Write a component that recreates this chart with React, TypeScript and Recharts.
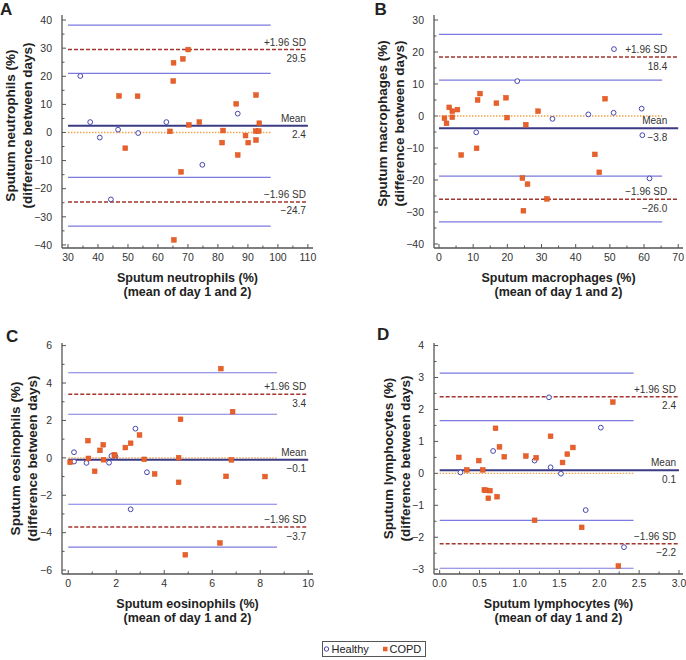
import { ScatterChart, Scatter, XAxis, YAxis, ReferenceLine } from 'recharts'

type Pt = { x: number; y: number }

// ---- A: neutrophils
const neutHealthy: Pt[] = [
    { x: 34.1, y: 20.1 }, { x: 37.4, y: 3.7 }, { x: 40.6, y: -1.8 }, { x: 44.3, y: -23.8 },
    { x: 46.7, y: 1.0 }, { x: 53.4, y: -0.2 }, { x: 62.8, y: 3.7 }, { x: 74.8, y: -11.5 },
    { x: 86.6, y: 6.7 },
]
const neutCopd: Pt[] = [
    { x: 47.0, y: 13.0 }, { x: 53.2, y: 12.9 }, { x: 49.1, y: -5.6 }, { x: 64.0, y: 0.4 },
    { x: 65.2, y: 24.8 }, { x: 68.3, y: 26.2 }, { x: 65.1, y: 18.3 }, { x: 70.1, y: 29.5 },
    { x: 70.3, y: 2.7 }, { x: 73.8, y: 3.7 }, { x: 67.7, y: -14.0 }, { x: 65.3, y: -38.2 },
    { x: 81.7, y: 0.7 }, { x: 81.4, y: -3.6 }, { x: 86.1, y: 10.2 }, { x: 86.6, y: -8.0 },
    { x: 89.2, y: -1.1 }, { x: 90.1, y: -3.6 }, { x: 92.7, y: 13.3 }, { x: 92.6, y: 0.5 },
    { x: 92.7, y: -2.7 }, { x: 93.8, y: 3.3 }, { x: 93.6, y: 0.5 },
]
const neutLimits = [2.4, 29.5, -24.7] // mean, +1.96 SD, -1.96 SD
const neutCi = [38.2, 21.0, -16.0, -33.3]
const neutXTicks = [30, 40, 50, 60, 70, 80, 90, 100, 110]
const neutYTicks = [-40, -30, -20, -10, 0, 10, 20, 30, 40]

// ---- B: macrophages
const macHealthy: Pt[] = [
    { x: 51.2, y: 20.9 }, { x: 22.9, y: 10.9 }, { x: 10.9, y: -5.1 }, { x: 33.2, y: -0.9 },
    { x: 43.7, y: 0.5 }, { x: 51.1, y: 1.0 }, { x: 59.3, y: 2.3 }, { x: 59.5, y: -6.0 },
    { x: 61.6, y: -19.5 },
]
const macCopd: Pt[] = [
    { x: 1.6, y: -0.7 }, { x: 2.2, y: -2.3 }, { x: 3.0, y: 2.7 }, { x: 3.9, y: 1.5 },
    { x: 3.9, y: -0.4 }, { x: 5.4, y: 2.0 }, { x: 6.5, y: -12.2 }, { x: 11.0, y: -10.1 },
    { x: 11.3, y: 5.0 }, { x: 12.0, y: 7.0 }, { x: 16.8, y: 4.0 }, { x: 19.6, y: 5.7 },
    { x: 19.9, y: -0.5 }, { x: 25.4, y: -2.7 }, { x: 29.0, y: 1.5 }, { x: 24.4, y: -19.4 },
    { x: 25.9, y: -21.3 }, { x: 24.7, y: -29.6 }, { x: 31.6, y: -25.9 }, { x: 45.6, y: -12.0 },
    { x: 46.9, y: -17.6 }, { x: 48.6, y: 5.4 },
]
const macLimits = [-3.8, 18.4, -26.0]
const macCi = [25.5, 11.2, -18.8, -33.1]
const macXTicks = [0, 10, 20, 30, 40, 50, 60, 70]
const macYTicks = [-40, -30, -20, -10, 0, 10, 20, 30]

// ---- C: eosinophils
const eosHealthy: Pt[] = [
    { x: 0.24, y: 0.3 }, { x: 0.24, y: -0.2 }, { x: 0.76, y: -0.27 }, { x: 1.7, y: -0.26 },
    { x: 1.8, y: 0.1 }, { x: 1.97, y: 0.06 }, { x: 2.8, y: 1.56 }, { x: 3.28, y: -0.77 },
    { x: 2.6, y: -2.75 },
]
const eosCopd: Pt[] = [
    { x: 0.08, y: -0.24 }, { x: 0.82, y: 0.92 }, { x: 0.84, y: -0.03 }, { x: 1.1, y: -0.72 },
    { x: 1.32, y: 0.4 }, { x: 1.46, y: 0.7 }, { x: 1.47, y: -0.1 }, { x: 1.92, y: 0.17 },
    { x: 1.94, y: 0.12 }, { x: 2.38, y: 0.55 }, { x: 2.6, y: 0.78 }, { x: 2.97, y: 1.22 },
    { x: 3.17, y: -0.08 }, { x: 3.6, y: -0.86 }, { x: 4.68, y: 2.06 }, { x: 4.6, y: 0.01 },
    { x: 4.6, y: -1.31 }, { x: 6.36, y: 4.77 }, { x: 6.85, y: 2.47 }, { x: 6.8, y: -0.11 },
    { x: 6.58, y: -0.99 }, { x: 8.2, y: -1.0 }, { x: 6.32, y: -4.55 }, { x: 4.88, y: -5.18 },
]
const eosLimits = [-0.1, 3.4, -3.7]
const eosCi = [4.55, 2.33, -2.48, -4.77]
const eosXTicks = [0, 2, 4, 6, 8, 10]
const eosYTicks = [-6, -4, -2, 0, 2, 4, 6]

// ---- D: lymphocytes
const lymHealthy: Pt[] = [
    { x: 0.26, y: 0.03 }, { x: 0.67, y: 0.7 }, { x: 1.19, y: 0.4 }, { x: 1.37, y: 2.38 },
    { x: 1.39, y: 0.19 }, { x: 1.52, y: -0.01 }, { x: 1.83, y: -1.15 }, { x: 2.02, y: 1.43 },
    { x: 2.31, y: -2.31 },
]
const lymCopd: Pt[] = [
    { x: 0.24, y: 0.5 }, { x: 0.34, y: 0.11 }, { x: 0.49, y: 0.4 }, { x: 0.54, y: 0.11 },
    { x: 0.56, y: -0.52 }, { x: 0.58, y: -0.53 }, { x: 0.63, y: -0.54 }, { x: 0.61, y: -0.78 },
    { x: 0.72, y: -0.73 }, { x: 0.7, y: 1.41 }, { x: 0.75, y: 0.83 }, { x: 0.81, y: 0.52 },
    { x: 1.08, y: 0.54 }, { x: 1.21, y: 0.49 }, { x: 1.19, y: -1.47 }, { x: 1.39, y: 1.16 },
    { x: 1.54, y: 0.34 }, { x: 1.6, y: 0.6 }, { x: 1.67, y: 0.81 }, { x: 1.78, y: -1.69 },
    { x: 2.17, y: 2.23 }, { x: 2.24, y: -2.9 },
]
const lymLimits = [0.1, 2.4, -2.2]
const lymCi = [3.14, 1.65, -1.47, -2.97]
const lymXTicks = [0, 0.5, 1, 1.5, 2, 2.5, 3]
const lymYTicks = [-3, -2, -1, 0, 1, 2, 3, 4]

const FONT = '"Liberation Sans", Arial, Helvetica, sans-serif'
const AXIS = '#555'
const TEXT = '#333'
const CI_BLUE = '#7a7ae0'
const MEAN_BLUE = '#3b3b85'
const LIMIT_RED = '#a3352e'
const ZERO_ORANGE = '#f2a24a'
const HEALTHY = '#4646b0'
const COPD = '#e8612a'

const minus = (s: string) => s.replace('-', '\u2212')

// majors plus the minor ticks halfway between them
const withMinors = (majors: number[]) => {
    const out: number[] = []
    majors.forEach((m, i) => {
        out.push(m)
        if (i < majors.length - 1) out.push((m + majors[i + 1]) / 2)
    })
    return out
}

const YTick = ({ x, y, payload, majors, fmt }: any) => {
    const major = majors.includes(payload.value)
    return (
        <g>
            <line x1={x} x2={x + (major ? 4 : 2.5)} y1={y} y2={y} stroke={AXIS} strokeWidth={1} />
            {major && (
                <text x={x - 10} y={y} dy={3.8} textAnchor="end" fontSize={10.5} fill={TEXT}>
                    {fmt(payload.value)}
                </text>
            )}
        </g>
    )
}

const XTick = ({ x, y, payload, majors, fmt }: any) => {
    const major = majors.includes(payload.value)
    return (
        <g>
            <line x1={x} x2={x} y1={y} y2={y - (major ? 4 : 2.5)} stroke={AXIS} strokeWidth={1} />
            {major && (
                <text x={x} y={y + 13} textAnchor="middle" fontSize={10.5} fill={TEXT}>
                    {fmt(payload.value)}
                </text>
            )}
        </g>
    )
}

const CircleShape = (props: any) => (
    <circle cx={props.cx} cy={props.cy} r={2.4} fill="#fff" stroke={HEALTHY} strokeWidth={1} />
)
const SquareShape = (props: any) => (
    <rect x={props.cx - 2.4} y={props.cy - 2.4} width={4.8} height={4.8} fill={COPD} stroke="#d9521f" strokeWidth={0.5} />
)

const limitLabel = (top: string, bottom: string, pad: number) => (props: any) => {
    const vb = props.viewBox
    if (!vb) return null
    const xr = vb.x + vb.width - pad
    return (
        <g>
            <text x={xr} y={vb.y - 4} textAnchor="end" fontSize={10} fill={TEXT}>{top}</text>
            <text x={xr} y={vb.y + 12.5} textAnchor="end" fontSize={10} fill={TEXT}>{bottom}</text>
        </g>
    )
}

interface PanelProps {
    letter: string
    left: number
    top: number
    height: number
    marginTop: number
    marginRight: number
    yAxisWidth: number
    xAxisHeight: number
    titleOff: number
    titleShift: number
    letterX: number
    letterY: number
    labelPad: number
    healthy: Pt[]
    copd: Pt[]
    limits: number[]
    ci: number[]
    xStart: number
    ciEnd: number
    xEnd: number
    xDomain: [number, number]
    yDomain: [number, number]
    xTicks: number[]
    yTicks: number[]
    xFmt: (v: number) => string
    yTitle: [string, string]
    xTitle: [string, string]
}

function Panel(p: PanelProps) {
    const [mean, upper, lower] = p.limits
    const fmt1 = (v: number) => minus(v.toFixed(1))
    const yFmt = (v: number) => minus(String(v))

    const yTitle = (props: any) => {
        const { x, y, width, height } = props.viewBox
        const ax = x + width
        const cy = y + height / 2 + p.titleShift
        const x1 = ax - p.titleOff
        const x2 = x1 + 17
        return (
            <g fontWeight="bold" fill="#222">
                <text x={p.letterX} y={p.letterY} fontSize={17}>{p.letter}</text>
                <text x={x1} y={cy} transform={`rotate(-90 ${x1} ${cy})`} textAnchor="middle"
                    dominantBaseline="central" fontSize={13.5}>{p.yTitle[0]}</text>
                <text x={x2} y={cy} transform={`rotate(-90 ${x2} ${cy})`} textAnchor="middle"
                    dominantBaseline="central" fontSize={13.5}>{p.yTitle[1]}</text>
            </g>
        )
    }
    const xTitle = (props: any) => {
        const { x, y, width } = props.viewBox
        const cx = x + width / 2
        return (
            <g fontWeight="bold" fill="#222" fontSize={12.5}>
                <text x={cx} y={y + 33.5} textAnchor="middle">{p.xTitle[0]}</text>
                <text x={cx} y={y + 47.5} textAnchor="middle">{p.xTitle[1]}</text>
            </g>
        )
    }

    return (
        <div style={{ position: 'absolute', left: p.left, top: p.top }}>
            <ScatterChart
                width={343}
                height={p.height}
                margin={{ top: p.marginTop, right: p.marginRight, bottom: 0, left: 0 }}
            >
                <XAxis
                    type="number"
                    dataKey="x"
                    domain={p.xDomain}
                    ticks={withMinors(p.xTicks)}
                    interval={0}
                    allowDataOverflow
                    height={p.xAxisHeight}
                    tickSize={0}
                    tickMargin={0}
                    tickLine={false}
                    axisLine={{ stroke: AXIS, strokeWidth: 1.3 }}
                    tick={<XTick majors={p.xTicks} fmt={p.xFmt} />}
                    label={xTitle}
                />
                <YAxis
                    type="number"
                    dataKey="y"
                    domain={p.yDomain}
                    ticks={withMinors(p.yTicks)}
                    interval={0}
                    allowDataOverflow
                    width={p.yAxisWidth}
                    tickSize={0}
                    tickMargin={0}
                    tickLine={false}
                    axisLine={{ stroke: AXIS, strokeWidth: 1.3 }}
                    tick={<YTick majors={p.yTicks} fmt={yFmt} />}
                    label={yTitle}
                />

                {/* confidence bands of mean and limits */}
                {p.ci.map((v, i) => (
                    <ReferenceLine
                        key={`ci-${i}`}
                        segment={[{ x: p.xStart, y: v }, { x: p.ciEnd, y: v }]}
                        stroke={CI_BLUE}
                        strokeWidth={1.2}
                    />
                ))}

                {/* zero line */}
                <ReferenceLine
                    segment={[{ x: p.xStart, y: 0 }, { x: p.ciEnd, y: 0 }]}
                    stroke={ZERO_ORANGE}
                    strokeWidth={1.3}
                    strokeDasharray="1.5 1.5"
                />

                {/* limits of agreement */}
                <ReferenceLine
                    segment={[{ x: p.xStart, y: upper }, { x: p.xEnd, y: upper }]}
                    stroke={LIMIT_RED}
                    strokeWidth={1.5}
                    strokeDasharray="4 2"
                    label={limitLabel('+1.96 SD', fmt1(upper), p.labelPad)}
                />
                <ReferenceLine
                    segment={[{ x: p.xStart, y: lower }, { x: p.xEnd, y: lower }]}
                    stroke={LIMIT_RED}
                    strokeWidth={1.5}
                    strokeDasharray="4 2"
                    label={limitLabel('\u22121.96 SD', fmt1(lower), p.labelPad)}
                />

                {/* mean difference */}
                <ReferenceLine
                    segment={[{ x: p.xStart, y: mean }, { x: p.xEnd, y: mean }]}
                    stroke={MEAN_BLUE}
                    strokeWidth={2}
                    label={limitLabel('Mean', fmt1(mean), p.labelPad)}
                />

                <Scatter data={p.healthy} shape={CircleShape} isAnimationActive={false} />
                <Scatter data={p.copd} shape={SquareShape} isAnimationActive={false} />
            </ScatterChart>
        </div>
    )
}

const Legend = () => (
    <div style={{ position: 'absolute', left: 322, top: 641 }}>
        <svg width={104} height={16}>
            <rect x={0.5} y={0.5} width={103} height={15} fill="#fff" stroke="#555" strokeWidth={1} />
            <circle cx={4.5} cy={8} r={2.2} fill="#fff" stroke={HEALTHY} strokeWidth={1} />
            <text x={9.5} y={11.8} fontSize={11} fill="#222">Healthy</text>
            <rect x={61} y={5.8} width={4.5} height={4.5} fill={COPD} />
            <text x={67.5} y={11.8} fontSize={11} fill="#222">COPD</text>
        </svg>
    </div>
)

export default function App() {
    const intFmt = (v: number) => minus(String(v))
    const decFmt = (v: number) => v.toFixed(1)
    return (
        <div
            style={{
                position: 'absolute',
                left: 0,
                top: 0,
                width: 686,
                height: 660,
                background: '#fff',
                fontFamily: FONT,
            }}
        >
            <Panel
                letter="A" left={0} top={0} height={310}
                marginTop={15} marginRight={30} yAxisWidth={62} xAxisHeight={62}
                titleOff={52} titleShift={-6} letterX={0} letterY={14.5} labelPad={2}
                healthy={neutHealthy} copd={neutCopd} limits={neutLimits} ci={neutCi}
                xStart={30} ciEnd={97.6} xEnd={110}
                xDomain={[28, 111.7]} yDomain={[-41.1, 41.8]}
                xTicks={neutXTicks} yTicks={neutYTicks} xFmt={intFmt}
                yTitle={['Sputum neutrophils (%)', '(difference between days)']}
                xTitle={['Sputum neutrophils (%)', '(mean of day 1 and 2)']}
            />
            <Panel
                letter="B" left={343} top={0} height={310}
                marginTop={15} marginRight={3} yAxisWidth={91} xAxisHeight={62}
                titleOff={52} titleShift={-8} letterX={31.5} letterY={15} labelPad={11}
                healthy={macHealthy} copd={macCopd} limits={macLimits} ci={macCi}
                xStart={0} ciEnd={65.3} xEnd={70}
                xDomain={[-1.46, 71.4]} yDomain={[-41.25, 31.56]}
                xTicks={macXTicks} yTicks={macYTicks} xFmt={intFmt}
                yTitle={['Sputum macrophages (%)', '(difference between days)']}
                xTitle={['Sputum macrophages (%)', '(mean of day 1 and 2)']}
            />
            <Panel
                letter="C" left={0} top={310} height={330}
                marginTop={33} marginRight={30} yAxisWidth={62} xAxisHeight={66}
                titleOff={47} titleShift={0} letterX={6} letterY={31.7} labelPad={2}
                healthy={eosHealthy} copd={eosCopd} limits={eosLimits} ci={eosCi}
                xStart={0} ciEnd={8.7} xEnd={10}
                xDomain={[-0.26, 10.2]} yDomain={[-6.21, 6.14]}
                xTicks={eosXTicks} yTicks={eosYTicks} xFmt={intFmt}
                yTitle={['Sputum eosinophils (%)', '(difference between days)']}
                xTitle={['Sputum eosinophils (%)', '(mean of day 1 and 2)']}
            />
            <Panel
                letter="D" left={343} top={310} height={330}
                marginTop={33} marginRight={3} yAxisWidth={91} xAxisHeight={66}
                titleOff={46} titleShift={0} letterX={34} letterY={30} labelPad={3}
                healthy={lymHealthy} copd={lymCopd} limits={lymLimits} ci={lymCi}
                xStart={0} ciEnd={2.43} xEnd={3}
                xDomain={[-0.071, 3.05]} yDomain={[-3.15, 4.08]}
                xTicks={lymXTicks} yTicks={lymYTicks} xFmt={decFmt}
                yTitle={['Sputum lymphocytes (%)', '(difference between days)']}
                xTitle={['Sputum lymphocytes (%)', '(mean of day 1 and 2)']}
            />
            <Legend />
        </div>
    )
}
